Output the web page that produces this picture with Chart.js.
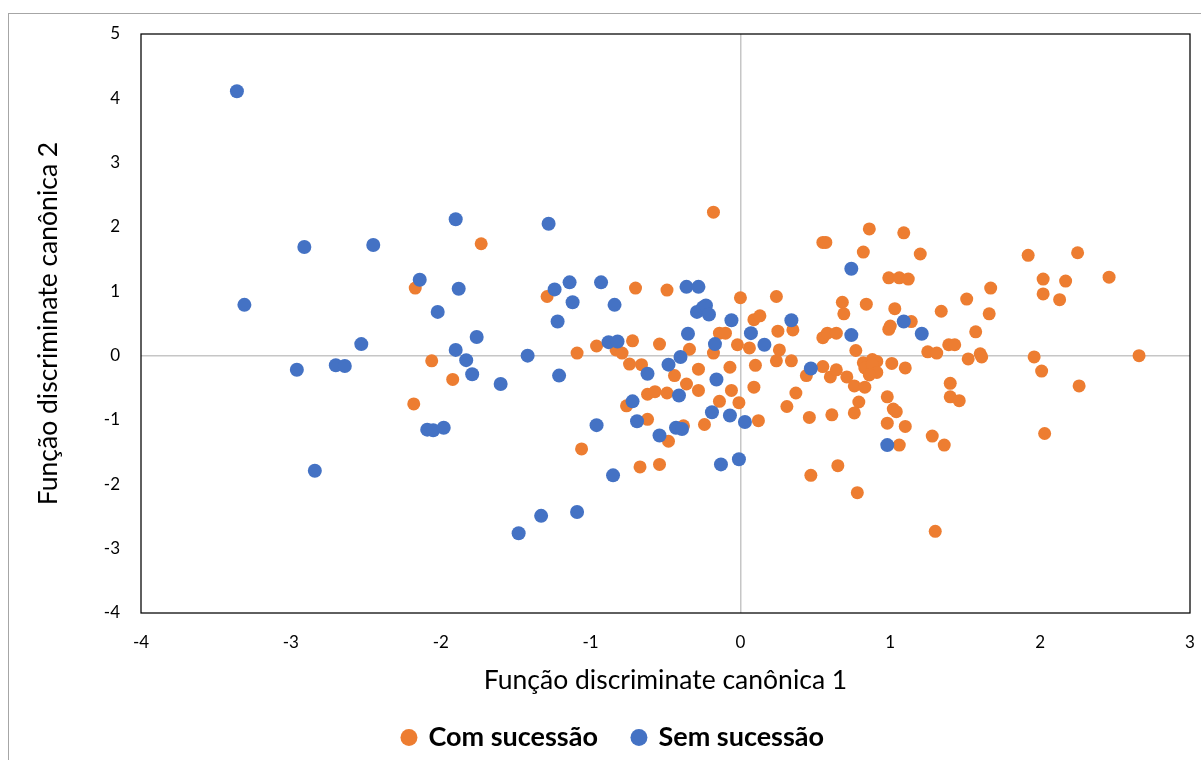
<!DOCTYPE html>
<html>
<head>
<meta charset="utf-8">
<script src="https://cdn.jsdelivr.net/npm/chart.js@4.4.1/dist/chart.umd.min.js"></script>
<style>
    html, body { margin: 0; padding: 0; background: #fff; overflow: hidden; }
    #quadro {
        position: absolute; left: 8px; top: 13px;
        width: 1216px; height: 760px;
        border: 1px solid #a6a6a6; box-sizing: border-box;
    }
    canvas { display: block; }
</style>
</head>
<body>
<div id="quadro"><canvas id="grafico"></canvas></div>
<script>
// Função discriminante canônica 1 (x) e 2 (y) por grupo
const comX = [-2.17,-2.06,-2.18,-1.73,-1.92,-1.29,-0.70,-1.09,-0.96,-0.72,
    -0.83,-0.79,-0.74,-0.66,-1.06,-0.67,-0.76,-0.62,-0.62,-0.18,
    -0.49,0.00,-0.54,-0.34,-0.18,-0.14,-0.10,-0.02,0.06,0.09,
    0.13,-0.28,-0.07,0.10,-0.44,-0.36,-0.28,-0.57,-0.49,-0.06,
    -0.14,-0.01,0.09,-0.24,-0.38,-0.48,-0.54,0.55,0.57,0.86,
    1.09,0.82,1.20,0.99,1.06,1.12,0.24,0.68,0.84,0.69,
    1.03,0.25,0.35,0.55,0.58,0.64,0.99,1.00,1.14,1.34,
    0.26,0.24,0.34,0.77,0.55,0.82,0.88,0.91,1.01,1.10,
    1.25,1.31,0.44,0.60,0.64,0.71,0.83,0.88,0.91,0.86,
    0.76,0.83,0.37,0.98,0.79,0.31,1.02,1.04,0.76,0.46,
    0.61,0.12,0.98,1.10,1.28,1.36,1.06,0.65,0.47,0.78,
    1.30,1.92,2.25,2.46,2.02,2.17,2.02,2.13,1.67,1.51,
    1.66,1.57,1.39,1.43,1.52,1.60,1.61,1.96,2.66,2.01,
    2.26,1.40,1.40,1.46,2.03];
const comY = [1.05,-0.08,-0.75,1.74,-0.37,0.92,1.05,0.04,0.15,0.23,
    0.09,0.04,-0.13,-0.14,-1.45,-1.73,-0.78,-0.60,-0.99,2.23,
    1.02,0.90,0.18,0.10,0.04,0.35,0.35,0.17,0.12,0.56,
    0.62,-0.21,-0.18,-0.15,-0.31,-0.44,-0.54,-0.56,-0.58,-0.54,
    -0.71,-0.73,-0.49,-1.07,-1.09,-1.33,-1.69,1.76,1.76,1.97,
    1.91,1.61,1.58,1.21,1.21,1.19,0.92,0.83,0.80,0.65,
    0.73,0.38,0.40,0.28,0.35,0.35,0.41,0.46,0.53,0.69,
    0.09,-0.08,-0.08,0.08,-0.17,-0.11,-0.06,-0.09,-0.12,-0.19,
    0.06,0.04,-0.31,-0.33,-0.22,-0.33,-0.19,-0.14,-0.26,-0.30,
    -0.47,-0.49,-0.58,-0.64,-0.72,-0.79,-0.83,-0.87,-0.89,-0.96,
    -0.92,-1.01,-1.05,-1.10,-1.25,-1.39,-1.39,-1.71,-1.86,-2.13,
    -2.73,1.56,1.60,1.22,1.19,1.16,0.96,0.87,1.05,0.88,
    0.65,0.37,0.17,0.17,-0.05,0.03,-0.02,-0.02,0.00,-0.24,
    -0.47,-0.43,-0.64,-0.70,-1.21];

const semX = [-3.36,-2.91,-3.31,-2.96,-2.70,-2.64,-2.84,-2.45,-2.53,-2.14,
    -2.02,-2.09,-2.05,-1.98,-1.90,-1.28,-1.88,-1.76,-1.90,-1.83,
    -1.79,-1.60,-1.42,-1.21,-1.24,-1.14,-1.12,-1.22,-0.93,-0.84,
    -0.88,-0.82,-0.62,-0.72,-0.69,-0.96,-0.85,-1.09,-1.33,-1.48,
    -0.36,-0.28,-0.29,-0.25,-0.23,-0.21,-0.06,-0.35,-0.17,0.07,
    0.16,-0.40,-0.48,-0.16,-0.41,-0.19,-0.07,0.03,-0.54,-0.43,
    -0.39,-0.13,-0.01,0.34,0.74,0.74,1.09,1.21,0.47,0.98];
const semY = [4.11,1.69,0.79,-0.22,-0.15,-0.16,-1.79,1.72,0.18,1.18,
    0.68,-1.15,-1.16,-1.12,2.12,2.05,1.04,0.29,0.09,-0.07,
    -0.29,-0.44,0.00,-0.31,1.03,1.14,0.83,0.53,1.14,0.79,
    0.21,0.22,-0.28,-0.71,-1.02,-1.08,-1.86,-2.43,-2.49,-2.76,
    1.07,1.07,0.68,0.75,0.78,0.64,0.55,0.34,0.18,0.35,
    0.17,-0.02,-0.14,-0.37,-0.62,-0.88,-0.93,-1.03,-1.24,-1.12,
    -1.14,-1.69,-1.61,0.55,1.35,0.32,0.53,0.34,-0.20,-1.39];

const series = ['Com sucessão', 'Sem sucessão'];
const limitesX = [-4, 3];
const limitesY = [-4, 5];
const tituloX = 'Função discriminate canônica 1';
const tituloY = 'Função discriminate canônica 2';

function pares(xs, ys) {
    return xs.map((x, i) => ({ x: x, y: ys[i] }));
}

// moldura preta em volta da área do gráfico
const moldura = {
    id: 'moldura',
    beforeDatasetsDraw(chart) {
        const a = chart.chartArea;
        const ctx = chart.ctx;
        ctx.save();
        ctx.strokeStyle = '#000';
        ctx.lineWidth = 1.25;
        ctx.strokeRect(a.left, a.top, a.right - a.left, a.bottom - a.top);
        ctx.restore();
    }
};

const linhaZero = (c) => (c.tick && c.tick.value === 0) ? '#c6c6c6' : 'rgba(0,0,0,0)';
const fonte = 'Lato';

new Chart(document.getElementById('grafico'), {
    type: 'scatter',
    data: {
        datasets: [{
            label: series[0],
            data: pares(comX, comY),
            backgroundColor: '#ED7D31',
            borderWidth: 0,
            pointRadius: 6.5,
            order: 1
        }, {
            label: series[1],
            data: pares(semX, semY),
            backgroundColor: '#4472C4',
            borderWidth: 0,
            pointRadius: 7,
            order: 0
        }]
    },
    options: {
        responsive: true,
        maintainAspectRatio: false,
        animation: false,
        layout: { padding: { left: 28, right: 33, top: 20, bottom: 11 } },
        plugins: {
            tooltip: { enabled: false },
            legend: {
                position: 'bottom',
                labels: {
                    usePointStyle: true,
                    pointStyle: 'circle',
                    boxWidth: 12,
                    boxHeight: 12,
                    padding: 35,
                    color: '#000',
                    font: { family: fonte, size: 27, weight: 'bold' },
                    sort: (a, b) => a.datasetIndex - b.datasetIndex
                }
            }
        },
        scales: {
            x: {
                type: 'linear',
                min: limitesX[0],
                max: limitesX[1],
                afterFit: (s) => { s.height = 76; s.paddingLeft = 0; s.paddingRight = 0; },
                grid: { color: linhaZero, lineWidth: 1.5, drawTicks: false },
                border: { display: false },
                ticks: {
                    stepSize: 1,
                    padding: 19,
                    color: '#000',
                    font: { family: fonte, size: 17 }
                },
                title: {
                    display: true,
                    text: tituloX,
                    color: '#000',
                    padding: { top: 0, bottom: -7 },
                    font: { family: fonte, size: 26.5 }
                }
            },
            y: {
                type: 'linear',
                min: limitesY[0],
                max: limitesY[1],
                afterFit: (s) => { s.width = 104; s.paddingTop = 0; s.paddingBottom = 0; },
                grid: { color: linhaZero, lineWidth: 1.5, drawTicks: false },
                border: { display: false },
                ticks: {
                    stepSize: 1,
                    padding: 21,
                    color: '#000',
                    font: { family: fonte, size: 17 }
                },
                title: {
                    display: true,
                    text: tituloY,
                    color: '#000',
                    padding: { top: -4.5, bottom: 0 },
                    font: { family: fonte, size: 26.5 }
                }
            }
        }
    },
    plugins: [moldura]
});
</script>
</body>
</html>
